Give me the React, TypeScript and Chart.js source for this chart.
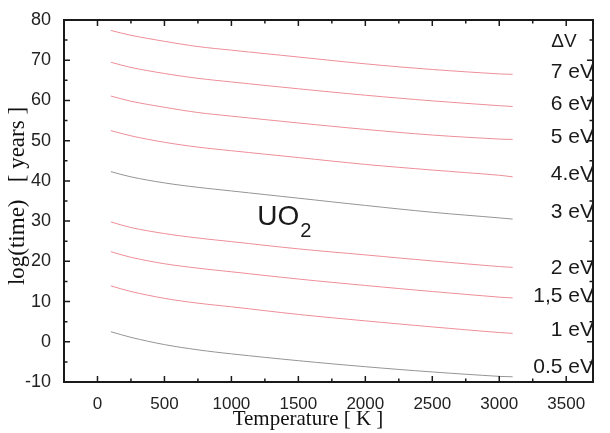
import React, { useEffect, useRef } from "react";
import { Chart, registerables } from "chart.js";

Chart.register(...registerables);

const temperatures = [100, 250, 500, 750, 1000, 1500, 2000, 2500, 3000, 3100];

const series7 = [77.4, 76.2, 74.7, 73.4, 72.5, 70.8, 69.1, 67.7, 66.6, 66.5];
const series6 = [69.5, 68.2, 66.7, 65.5, 64.6, 62.9, 61.3, 59.9, 58.7, 58.5];
const series5 = [61.1, 59.8, 58.3, 57.0, 56.1, 54.4, 52.8, 51.4, 50.4, 50.3];
const series4 = [52.5, 51.2, 49.6, 48.4, 47.5, 45.8, 44.1, 42.7, 41.4, 41.0];
const series3 = [42.3, 41.0, 39.5, 38.4, 37.5, 35.7, 33.9, 32.2, 30.8, 30.5];
const series2 = [29.8, 28.4, 26.9, 25.8, 24.9, 23.1, 21.6, 20.1, 18.7, 18.5];
const series15 = [22.4, 21.0, 19.4, 18.3, 17.4, 15.6, 14.0, 12.5, 11.1, 10.9];
const series1 = [13.9, 12.5, 10.8, 9.6, 8.7, 6.8, 5.2, 3.7, 2.3, 2.1];
const series05 = [2.5, 1.1, -0.7, -2.0, -3.0, -4.7, -6.2, -7.5, -8.6, -8.7];

const seriesNames = ["7 eV", "6 eV", "5 eV", "4.eV", "3 eV", "2 eV", "1,5 eV", "1 eV", "0.5 eV"];
const seriesValues = [series7, series6, series5, series4, series3, series2, series15, series1, series05];
const seriesIsGray = [false, false, false, false, true, false, false, false, true];
const labelY = [67.1, 59.1, 50.9, 41.7, 32.3, 18.3, 11.4, 2.9, -6.3];
const headerLabel = "ΔV";
const headerY = 74.5;

const xTicks = [0, 500, 1000, 1500, 2000, 2500, 3000, 3500];
const xMinorTicks = [250, 750, 1250, 1750, 2250, 2750, 3250];
const yTicks = [-10, 0, 10, 20, 30, 40, 50, 60, 70, 80];
const yMinorTicks = [-5, 5, 15, 25, 35, 45, 55, 65, 75];

const xMin = -250;
const xMax = 3700;
const yMin = -10;
const yMax = 80;

const xTitle = "Temperature [ K ]";
const yTitle = "log(time)   [ years ]";
const compoundMain = "UO";
const compoundSub = "2";
const compoundX = 1350;
const compoundY = 31;

const RED = "#ee8e98";
const GRAY = "#959595";
const TICK_FONT = "'Liberation Sans', Arial, sans-serif";

const decorPlugin = {
  id: "decor",
  afterDraw(chart: any) {
    const { ctx, chartArea, scales } = chart;
    const xs = scales.x;
    const ys = scales.y;
    const { left, right, top, bottom } = chartArea;
    ctx.save();
    ctx.strokeStyle = "#1a1a1a";
    ctx.lineWidth = 2;
    ctx.strokeRect(left, top, right - left, bottom - top);
    ctx.lineWidth = 1.5;
    const major = 6;
    const minor = 3.5;
    const drawX = (v: number, len: number) => {
      const px = xs.getPixelForValue(v);
      ctx.beginPath();
      ctx.moveTo(px, bottom);
      ctx.lineTo(px, bottom - len);
      ctx.moveTo(px, top);
      ctx.lineTo(px, top + len);
      ctx.stroke();
    };
    const drawY = (v: number, len: number) => {
      const py = ys.getPixelForValue(v);
      ctx.beginPath();
      ctx.moveTo(left, py);
      ctx.lineTo(left + len, py);
      ctx.moveTo(right, py);
      ctx.lineTo(right - len, py);
      ctx.stroke();
    };
    xTicks.forEach((v) => drawX(v, major));
    xMinorTicks.forEach((v) => drawX(v, minor));
    yTicks.forEach((v) => { if (v !== yMin && v !== yMax) drawY(v, major); });
    yMinorTicks.forEach((v) => drawY(v, minor));

    // axis titles
    ctx.fillStyle = "#111";
    ctx.font = "21px 'Liberation Serif', 'Times New Roman', serif";
    ctx.textAlign = "center";
    ctx.textBaseline = "middle";
    ctx.fillText(xTitle, 308, 419);
    ctx.save();
    ctx.translate(18, 196);
    ctx.rotate(-Math.PI / 2);
    ctx.font = "23px 'Liberation Serif', 'Times New Roman', serif";
    ctx.fillText(yTitle, 0, 0);
    ctx.restore();

    // series labels
    ctx.font = "21px 'Liberation Sans', Arial, sans-serif";
    ctx.textAlign = "right";
    ctx.fillStyle = "#1a1a1a";
    seriesNames.forEach((name, i) => {
      ctx.fillText(name, right + 1, ys.getPixelForValue(labelY[i]));
    });
    ctx.textAlign = "center";
    ctx.font = "19px 'Liberation Sans', Arial, sans-serif";
    ctx.fillText(headerLabel, right - 29, ys.getPixelForValue(headerY));

    // compound label
    const cx = xs.getPixelForValue(compoundX);
    const cy = ys.getPixelForValue(compoundY);
    ctx.font = "28px 'Liberation Sans', Arial, sans-serif";
    ctx.textAlign = "center";
    const w = ctx.measureText(compoundMain).width;
    ctx.fillText(compoundMain, cx, cy);
    ctx.font = "20px 'Liberation Sans', Arial, sans-serif";
    ctx.textAlign = "left";
    ctx.fillText(compoundSub, cx + w / 2 + 1, cy + 14);
    ctx.restore();
  },
};

export default function App() {
  const canvasRef = useRef<HTMLCanvasElement | null>(null);

  useEffect(() => {
    const canvas = canvasRef.current;
    if (!canvas) return;
    const datasets = seriesValues.map((vals, i) => ({
      label: seriesNames[i],
      data: temperatures.map((t, j) => ({ x: t, y: vals[j] })),
      borderColor: seriesIsGray[i] ? GRAY : RED,
      borderWidth: 1,
      pointRadius: 0,
      tension: 0.35,
      fill: false,
    }));
    const chart = new Chart(canvas, {
      type: "line",
      data: { datasets },
      options: {
        animation: false,
        responsive: false,
        devicePixelRatio: 1,
        layout: { padding: { left: 0, right: 17, top: 20, bottom: 0 } },
        plugins: { legend: { display: false }, tooltip: { enabled: false } },
        scales: {
          x: {
            type: "linear",
            min: xMin,
            max: xMax,
            afterBuildTicks: (scale: any) => {
              scale.ticks = xTicks.map((v) => ({ value: v }));
            },
            afterFit: (scale: any) => {
              scale.height = 51;
            },
            grid: { display: false },
            border: { display: false },
            ticks: {
              padding: 4,
              color: "#222",
              font: { family: TICK_FONT, size: 17 },
              maxRotation: 0,
              autoSkip: false,
              callback: (v: any) => String(v),
            },
          },
          y: {
            type: "linear",
            min: yMin,
            max: yMax,
            afterBuildTicks: (scale: any) => {
              scale.ticks = yTicks.map((v) => ({ value: v }));
            },
            afterFit: (scale: any) => {
              scale.width = 64;
            },
            grid: { display: false },
            border: { display: false },
            ticks: {
              padding: 5,
              color: "#222",
              font: { family: TICK_FONT, size: 18 },
              autoSkip: false,
              callback: (v: any) => String(v),
            },
          },
        },
      },
      plugins: [decorPlugin],
    });
    return () => chart.destroy();
  }, []);

  return (
    <div style={{ position: "absolute", left: 0, top: 0, width: 610, height: 433, background: "#fff" }}>
      <canvas ref={canvasRef} width={610} height={433} style={{ width: 610, height: 433, display: "block" }} />
    </div>
  );
}
